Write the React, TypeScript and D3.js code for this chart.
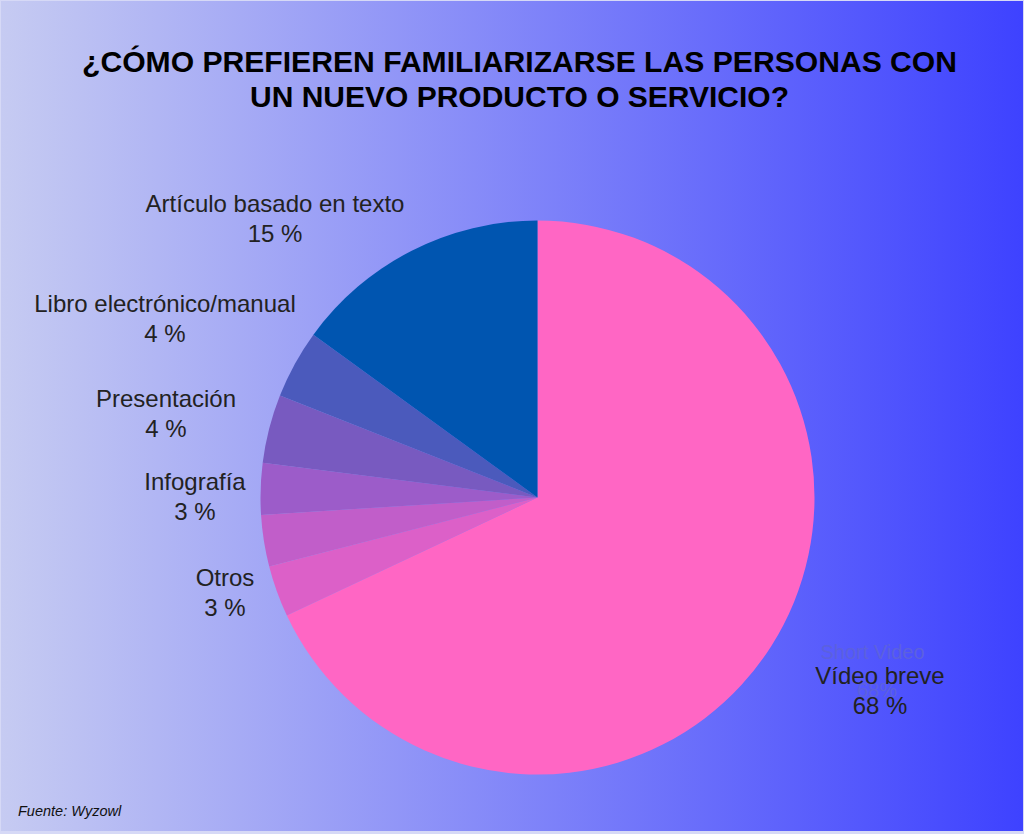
import React from "react";
import * as d3 from "d3";

const categories = [
  "Vídeo breve",
  "Otros",
  "Seminario web",
  "Infografía",
  "Presentación",
  "Libro electrónico/manual",
  "Artículo basado en texto",
];
const values = [68, 3, 3, 3, 4, 4, 15];
const showLabel = [true, true, false, true, true, true, true];
const sliceColors = ["#FF66C4", "#DC60C8", "#C15EC9", "#9C5CC9", "#785AC0", "#4B5ABC", "#0055B0"];
const titleLines = ["¿CÓMO PREFIEREN FAMILIARIZARSE LAS PERSONAS CON", "UN NUEVO PRODUCTO O SERVICIO?"];
const sourceText = "Fuente: Wyzowl";
const ghostLines = ["Short Video", "68%"];

// label placement (annotation layout): block centre x and first baseline y
const labelLayout: Record<string, { x: number; y: number }> = {
  "Vídeo breve": { x: 880, y: 684 },
  "Otros": { x: 225, y: 586 },
  "Infografía": { x: 195, y: 490 },
  "Presentación": { x: 166, y: 407 },
  "Libro electrónico/manual": { x: 165, y: 312 },
  "Artículo basado en texto": { x: 275, y: 212 },
};

const W = 1024;
const H = 834;
const cx = 537.5;
const cy = 497.5;
const R = 277;

export default function App() {
  const pie = d3.pie<number>().sort(null).value((d) => d);
  const arcs = pie(values);
  const arc = d3.arc<d3.PieArcDatum<number>>().innerRadius(0).outerRadius(R);
  const total = d3.sum(values);
  const fmt = (v: number) => `${Math.round((v / total) * 100)} %`;
  const labelFont = "'Liberation Sans', Arial, Helvetica, sans-serif";

  return (
    <svg
      width={W}
      height={H}
      style={{ position: "absolute", left: 0, top: 0 }}
      xmlns="http://www.w3.org/2000/svg"
    >
      <defs>
        <linearGradient id="bg" x1="0" y1="0" x2="1" y2="0">
          <stop offset="0" stopColor="#C6CBF2" />
          <stop offset="1" stopColor="#3E42FF" />
        </linearGradient>
      </defs>
      <rect x={0} y={0} width={W} height={H} fill="#D6D9F6" />
      <rect x={1} y={1} width={W - 2} height={830} fill="url(#bg)" />

      {titleLines.map((t, i) => (
        <text
          key={t}
          x={519.5}
          y={72 + i * 35}
          textAnchor="middle"
          fontFamily="'Liberation Sans Narrow', 'Arial Narrow', 'Liberation Sans', Arial, sans-serif"
          fontWeight="bold"
          fontSize={30}
          fill="#000"
          textLength={i === 0 ? 875 : 539}
          lengthAdjust="spacingAndGlyphs"
        >
          {t}
        </text>
      ))}

      <g transform={`translate(${cx},${cy})`}>
        {arcs.map((a, i) => (
          <path key={categories[i]} d={arc(a) || ""} fill={sliceColors[i]} />
        ))}
      </g>

      {/* faint underlying label */}
      {ghostLines.map((t, i) => (
        <text
          key={"g" + i}
          x={i === 0 ? 872.5 : 877}
          y={i === 0 ? 659 : 697}
          textAnchor="middle"
          fontFamily={labelFont}
          fontSize={20}
          fill="#5C61DE"
        >
          {t}
        </text>
      ))}

      {arcs.map((a, i) => {
        if (!showLabel[i]) return null;
        const pos = labelLayout[categories[i]];
        return (
          <g key={"l" + i} fontFamily={labelFont} fontSize={24} fill="#222" textAnchor="middle">
            <text x={pos.x} y={pos.y}>{categories[i]}</text>
            <text x={pos.x} y={pos.y + 30}>{fmt(values[i])}</text>
          </g>
        );
      })}

      <text
        x={18}
        y={816}
        fontFamily={labelFont}
        fontStyle="italic"
        fontSize={14.5}
        fill="#111"
      >
        {sourceText}
      </text>
    </svg>
  );
}
